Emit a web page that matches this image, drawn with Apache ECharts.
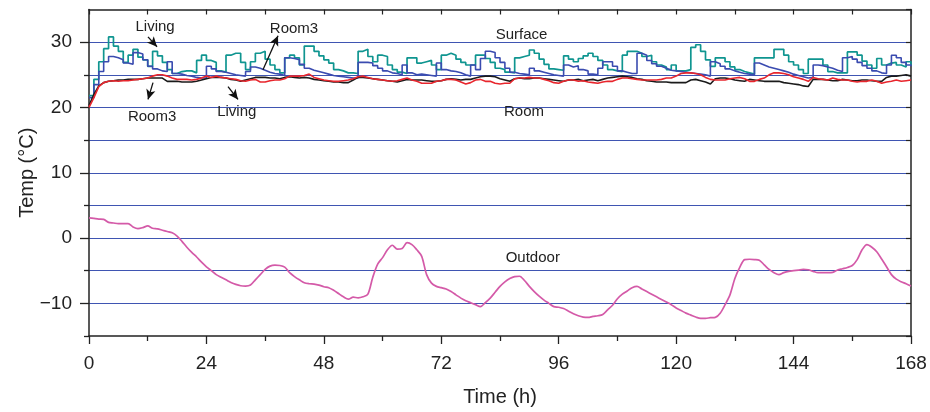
<!DOCTYPE html>
<html>
<head>
<meta charset="utf-8">
<script src="https://cdn.jsdelivr.net/npm/echarts@6/dist/echarts.min.js"></script>
<style>
html,body{margin:0;padding:0;background:#fff;}
#c{width:930px;height:412px;}
</style>
</head>
<body>
<div id="c"></div>
<script>
// Time axis (hours)
const hours = [];
for (let h = 0; h <= 168; h++) hours.push(h);
const xTicks = [0, 24, 48, 72, 96, 120, 144, 168];
const yTickLabels = [-10, 0, 10, 20, 30];
const yMinorTicks = [-15, -5, 5, 15, 25];

// Surface temperature, Living (teal)
const surfaceLiving = [
21.8,24.3,27.0,29.0,30.8,29.4,28.6,26.9,28.0,28.9,27.7,27.3,
26.3,28.6,27.9,26.9,25.8,25.2,25.5,25.6,25.6,25.3,27.2,28.0,
27.2,26.9,25.6,25.4,28.0,28.3,28.3,26.9,25.8,27.0,28.3,28.6,
27.4,26.5,25.8,25.3,27.6,28.0,27.6,26.5,29.4,29.4,28.6,27.9,
27.3,26.8,25.8,25.6,25.3,25.3,25.2,28.6,28.9,27.8,27.0,28.0,
27.8,26.5,25.8,25.4,25.2,27.6,27.6,26.8,27.0,27.2,26.5,25.8,
28.0,28.3,28.0,27.4,26.9,26.5,26.5,28.0,28.0,27.5,26.9,26.0,
25.8,25.4,25.3,27.6,27.8,28.0,28.8,28.3,27.4,26.6,25.9,25.8,
25.7,27.9,27.4,27.0,27.5,27.9,28.3,27.8,27.2,26.5,25.8,25.6,
25.5,28.0,28.6,28.6,28.3,27.8,28.0,27.0,26.5,26.2,25.8,26.5,
25.6,25.6,25.8,29.2,29.6,28.6,27.3,26.3,27.6,27.6,27.0,26.2,
25.8,25.5,25.3,25.1,27.6,27.6,27.6,27.6,28.9,28.9,28.0,27.0,
26.5,25.8,25.2,27.4,27.4,27.4,26.5,25.5,25.3,25.3,25.3,28.5,
28.5,28.0,27.1,26.5,26.0,27.5,26.5,26.8,26.9,26.5,26.2,27.0,
26.5];

// Surface temperature, Room3 (blue)
const surfaceRoom3 = [
21.5,23.5,25.5,27.0,27.8,27.6,27.3,26.8,26.6,28.4,28.2,27.3,
26.3,25.9,25.6,25.5,27.0,25.2,25.1,24.9,24.8,24.6,24.5,24.5,
26.3,25.9,25.5,25.4,25.2,25.0,24.9,24.8,25.5,26.2,26.0,25.7,
25.4,25.2,25.1,24.9,27.6,27.5,27.3,26.6,26.0,25.7,25.5,25.3,
25.1,24.9,24.8,24.7,24.6,24.5,24.5,26.9,26.9,26.8,26.4,26.0,
25.6,25.3,25.2,25.0,26.5,25.3,25.0,25.1,25.0,24.9,24.8,26.8,
25.8,25.6,25.5,25.3,25.0,24.8,26.5,25.8,27.5,28.6,28.4,27.6,
26.9,26.0,25.4,25.2,25.1,25.0,26.0,25.6,25.4,25.2,25.0,24.9,
24.8,26.5,26.2,26.4,25.8,25.6,25.1,25.0,26.0,27.0,27.0,26.3,
25.6,25.4,25.2,25.2,28.3,28.0,27.2,26.7,26.3,26.0,25.7,25.6,
25.5,25.4,25.3,25.2,25.1,25.0,24.8,27.0,26.7,26.3,25.9,25.6,
25.4,25.2,25.1,25.0,26.8,26.5,26.2,26.0,25.8,25.6,25.4,25.1,
24.9,24.7,24.5,24.6,26.5,26.4,26.2,26.0,25.7,25.5,27.6,27.8,
27.4,26.9,26.4,26.0,25.6,25.3,25.2,26.5,28.0,27.6,26.9,26.5,
26.3];

// Room air temperature, Living (black)
const roomLiving = [
20.3,22.0,23.3,23.8,24.0,24.1,24.2,24.2,24.3,24.3,24.3,24.4,
24.5,24.5,24.5,24.5,24.0,24.0,24.0,23.9,23.9,23.9,24.0,24.2,
24.4,24.6,24.6,24.6,24.5,24.3,24.2,24.0,24.2,24.4,24.6,24.6,
24.6,24.5,24.5,24.4,24.6,24.7,24.6,24.5,24.6,24.5,24.3,24.2,
24.1,24.0,23.9,23.9,23.8,23.8,24.2,24.6,24.6,24.5,24.4,24.3,
24.2,24.1,24.0,23.9,24.1,24.3,24.2,24.2,24.2,24.1,24.0,24.0,
24.1,24.3,24.4,24.3,24.2,24.3,24.3,24.5,24.7,24.8,24.8,24.7,
24.4,24.2,24.0,24.4,24.5,24.4,24.4,24.5,24.5,24.4,24.3,24.2,
24.1,24.0,24.2,24.2,24.3,24.1,24.2,24.3,24.1,24.3,24.5,24.6,
24.7,24.8,24.7,24.6,24.4,24.3,24.1,24.0,23.9,23.9,23.9,23.8,
23.8,23.8,23.8,24.2,24.3,24.1,23.9,23.6,24.4,24.5,24.5,24.4,
24.2,24.1,24.0,24.3,24.2,24.1,24.0,24.0,24.0,24.0,23.8,23.7,
23.6,23.5,23.3,23.2,24.3,24.3,24.3,24.2,24.1,24.1,24.3,24.2,
24.1,24.1,24.2,24.2,24.1,24.0,24.0,24.6,24.8,24.8,24.9,25.0,
24.8];

// Room air temperature, Room3 (red)
const roomRoom3 = [
20.0,21.5,23.2,23.8,24.0,24.1,24.0,24.1,24.1,24.2,24.3,24.4,
24.5,24.8,25.0,25.0,24.8,24.5,24.3,24.3,24.3,24.2,24.3,24.5,
24.8,24.6,24.8,24.6,24.5,24.4,24.3,24.1,24.0,24.2,24.3,23.9,
23.9,24.1,24.2,24.2,24.4,24.8,24.8,24.8,24.9,25.1,24.6,24.4,
24.2,24.1,24.0,24.0,24.1,24.2,24.4,24.7,24.8,24.6,24.4,24.3,
24.2,24.1,24.0,24.1,24.3,24.5,24.2,24.0,23.7,23.7,23.7,24.0,
24.1,24.3,24.3,24.2,23.9,23.6,23.8,24.2,24.3,24.0,24.0,23.7,
23.6,23.7,23.7,24.4,24.5,24.5,24.6,24.5,24.5,24.3,24.1,23.8,
23.7,24.0,24.2,24.2,24.0,24.1,23.9,23.8,23.7,23.9,24.0,24.0,
24.3,24.5,24.5,24.4,24.3,24.2,24.2,24.2,24.2,24.3,24.5,24.5,
24.8,25.2,25.3,25.3,25.2,25.0,24.6,24.3,24.2,24.2,24.2,24.4,
24.5,24.6,24.4,24.0,24.0,24.3,24.5,25.0,25.3,25.3,25.2,25.0,
24.7,24.5,24.3,24.0,24.6,24.4,24.3,24.2,24.5,24.3,24.2,24.2,
24.0,23.9,24.0,24.0,24.2,24.0,23.7,23.9,24.0,24.2,24.0,24.1,
24.2];

// Outdoor temperature (magenta)
const outdoor = [
3.1,3.0,2.9,2.85,2.4,2.3,2.2,2.2,2.2,1.7,1.45,1.6,
1.85,1.5,1.4,1.2,1.0,0.8,0.3,-0.5,-1.4,-2.2,-2.9,-3.7,
-4.4,-5.0,-5.6,-6.0,-6.4,-6.8,-7.1,-7.3,-7.35,-7.2,-6.4,-5.6,
-4.8,-4.3,-4.15,-4.2,-4.45,-5.3,-5.9,-6.4,-6.85,-7.0,-7.05,-7.2,
-7.45,-7.6,-8.0,-8.5,-9.0,-9.35,-9.05,-9.15,-9.0,-8.6,-6.0,-4.0,
-3.0,-1.8,-1.1,-1.7,-1.6,-0.7,-1.0,-1.8,-2.8,-5.6,-6.9,-7.4,
-7.6,-7.8,-8.2,-8.7,-9.2,-9.6,-9.9,-10.2,-10.5,-9.9,-9.2,-8.3,
-7.4,-6.7,-6.2,-5.9,-5.85,-6.5,-7.4,-8.2,-8.9,-9.5,-10.0,-10.5,
-10.6,-10.8,-11.2,-11.6,-11.9,-12.1,-12.15,-12.0,-11.9,-11.7,-11.0,-10.3,
-9.3,-8.6,-8.1,-7.6,-7.4,-7.8,-8.2,-8.6,-9.0,-9.4,-9.8,-10.2,
-10.7,-11.1,-11.5,-11.8,-12.1,-12.3,-12.3,-12.2,-12.15,-11.5,-10.2,-8.7,
-6.2,-4.5,-3.3,-3.25,-3.3,-3.4,-4.1,-4.8,-5.3,-5.6,-5.3,-5.1,
-5.0,-4.9,-4.8,-4.85,-5.1,-5.3,-5.3,-5.3,-5.25,-4.9,-4.7,-4.5,
-4.2,-3.3,-1.8,-1.0,-1.4,-2.1,-3.2,-4.4,-5.6,-6.3,-6.7,-7.0,
-7.35];

const pairs = arr => hours.map((h, i) => [h, arr[i]]);
const FONT = '"Liberation Sans", Arial, Helvetica, sans-serif';
const fmt = v => v < 0 ? '\u2212' + Math.abs(v) : String(v);

const chart = echarts.init(document.getElementById('c'), null, {renderer: 'canvas'});
const axisCol = '#222';
const gridBlue = '#3f55b2';

const option = {
  animation: false,
  backgroundColor: '#fff',
  grid: {left: 89, right: 19, top: 9.5, bottom: 74, containLabel: false},
  xAxis: [
    {
      type: 'value', position: 'bottom', min: 0, max: 168, interval: 24,
      name: 'Time (h)', nameLocation: 'middle', nameGap: 51,
      nameTextStyle: {fontFamily: FONT, fontSize: 20, color: '#222'},
      axisLine: {show: true, onZero: false, lineStyle: {color: axisCol, width: 1.5}},
      axisTick: {show: true, length: 8, lineStyle: {color: axisCol, width: 1.3}},
      minorTick: {show: true, splitNumber: 2, length: 5, lineStyle: {color: axisCol, width: 1.3}},
      axisLabel: {
        show: true, margin: 18, fontFamily: FONT, fontSize: 19, color: '#222',
        customValues: xTicks, formatter: fmt
      },
      splitLine: {show: false}
    },
    {
      type: 'value', position: 'top', min: 0, max: 168, interval: 24,
      axisLine: {show: true, onZero: false, lineStyle: {color: axisCol, width: 1.5}},
      axisTick: {show: true, inside: true, length: 5, lineStyle: {color: axisCol, width: 1.2}},
      minorTick: {show: true, splitNumber: 2, length: 5, lineStyle: {color: axisCol, width: 1.2}},
      axisLabel: {show: false},
      splitLine: {show: false}
    }
  ],
  yAxis: [
    {
      type: 'value', position: 'left', min: -15, max: 35, interval: 5,
      name: 'Temp (\u00B0C)', nameLocation: 'middle', nameGap: 52, nameRotate: 90,
      nameMoveOverlap: false,
      nameTextStyle: {fontFamily: FONT, fontSize: 20, color: '#222'},
      axisLine: {show: true, onZero: false, lineStyle: {color: axisCol, width: 1.5}},
      axisTick: {show: true, length: 9, customValues: yTickLabels, lineStyle: {color: axisCol, width: 1.3}},
      axisLabel: {
        show: true, margin: 17, fontFamily: FONT, fontSize: 19, color: '#222',
        customValues: yTickLabels, formatter: fmt
      },
      splitLine: {show: false}
    },
    {
      type: 'value', position: 'left', min: -15, max: 35, interval: 5,
      axisLine: {show: false},
      axisTick: {show: true, length: 5, customValues: yMinorTicks, lineStyle: {color: axisCol, width: 1.3}},
      axisLabel: {show: false},
      splitLine: {show: false}
    },
    {
      type: 'value', position: 'right', min: -15, max: 35, interval: 5,
      axisLine: {show: true, onZero: false, lineStyle: {color: axisCol, width: 1.5}},
      axisTick: {show: true, inside: true, length: 5, lineStyle: {color: axisCol, width: 1.2}},
      axisLabel: {show: false},
      splitLine: {show: true, showMinLine: false, showMaxLine: false, lineStyle: {color: gridBlue, width: 1.2}}
    }
  ],
  series: [
    {
      name: 'Surface Living', type: 'line', step: 'end', showSymbol: false, symbol: 'none',
      xAxisIndex: 0, yAxisIndex: 0,
      data: pairs(surfaceLiving),
      lineStyle: {color: '#0f9590', width: 1.7}
    },
    {
      name: 'Surface Room3', type: 'line', step: 'end', showSymbol: false, symbol: 'none',
      xAxisIndex: 0, yAxisIndex: 0,
      data: pairs(surfaceRoom3),
      lineStyle: {color: '#3a4bb0', width: 1.6}
    },
    {
      name: 'Room Living', type: 'line', showSymbol: false, symbol: 'none',
      xAxisIndex: 0, yAxisIndex: 0,
      data: pairs(roomLiving),
      lineStyle: {color: '#1a1a1a', width: 1.6}
    },
    {
      name: 'Room Room3', type: 'line', showSymbol: false, symbol: 'none',
      xAxisIndex: 0, yAxisIndex: 0,
      data: pairs(roomRoom3),
      lineStyle: {color: '#e8262d', width: 1.6}
    },
    {
      name: 'Outdoor', type: 'line', showSymbol: false, symbol: 'none', smooth: 0.3,
      xAxisIndex: 0, yAxisIndex: 0,
      data: pairs(outdoor),
      lineStyle: {color: '#d45aa8', width: 1.7},
      markPoint: {
        symbol: 'circle', symbolSize: 0, silent: true,
        label: {show: true, position: 'inside', formatter: p => p.name, fontFamily: FONT, fontSize: 15, color: '#222'},
        data: [
          {name: 'Living', coord: [13.5, 32.3]},
          {name: 'Room3', coord: [41.9, 32.0]},
          {name: 'Surface', coord: [88.4, 31.1]},
          {name: 'Room3', coord: [12.9, 18.5]},
          {name: 'Living', coord: [30.2, 19.25]},
          {name: 'Room', coord: [88.9, 19.3]},
          {name: 'Outdoor', coord: [90.7, -3.1]}
        ]
      },
      markLine: {
        silent: true, symbol: ['none', 'arrow'], symbolSize: [7, 10],
        label: {show: false},
        lineStyle: {color: '#111', width: 1.3, type: 'solid'},
        emphasis: {disabled: true},
        data: [
          [{coord: [12.06, 30.81]}, {coord: [13.9, 29.29]}],
          [{coord: [35.56, 25.79]}, {coord: [38.63, 30.97]}],
          [{coord: [13.08, 23.81]}, {coord: [12.06, 21.23]}],
          [{coord: [28.41, 23.2]}, {coord: [30.45, 21.23]}]
        ]
      }
    }
  ]
};
chart.setOption(option);
</script>
</body>
</html>
